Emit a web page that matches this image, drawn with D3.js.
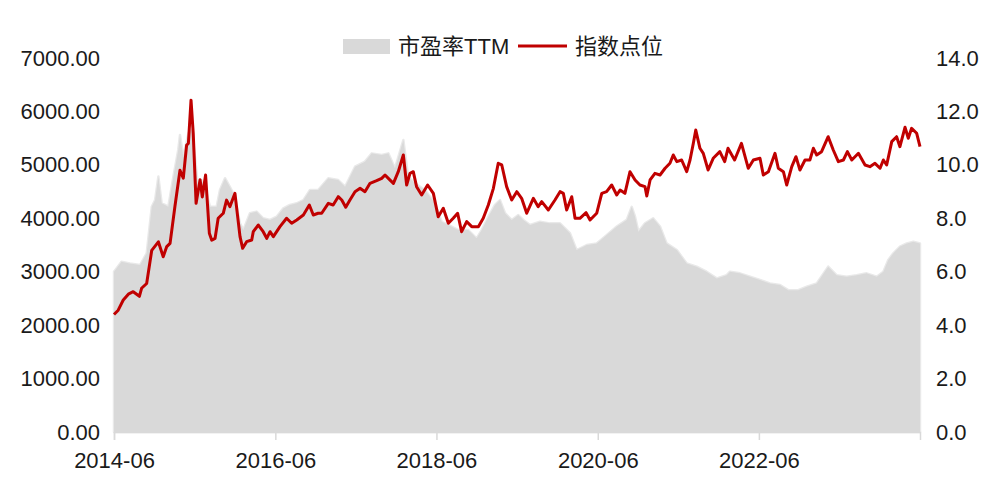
<!DOCTYPE html>
<html><head><meta charset="utf-8">
<script src="https://cdn.jsdelivr.net/npm/d3@7"></script>
<style>body{margin:0;background:#fff}</style>
</head><body><svg id="c" width="995" height="497"></svg>
<script>
// 指数点位 (left axis)
const idxDates = ["2014-06-01","2014-06-20","2014-07-13","2014-08-05","2014-08-27","2014-09-24","2014-10-04","2014-10-27","2014-11-19","2014-12-19",
"2015-01-10","2015-01-26","2015-02-10","2015-03-04","2015-03-27","2015-04-11","2015-04-26","2015-05-04","2015-05-16","2015-05-26",
"2015-06-08","2015-06-26","2015-07-06","2015-07-21","2015-08-07","2015-08-18","2015-09-02","2015-09-16","2015-10-09","2015-10-24",
"2015-11-08","2015-12-01","2015-12-24","2016-01-05","2016-01-23","2016-02-15","2016-02-22","2016-03-16","2016-04-07","2016-04-23",
"2016-05-08","2016-05-23","2016-06-22","2016-07-22","2016-08-14","2016-09-06","2016-10-06","2016-11-02","2016-11-20","2016-12-12",
"2016-12-28","2017-01-27","2017-02-18","2017-03-13","2017-03-29","2017-04-16","2017-05-05","2017-05-28","2017-06-20","2017-07-12",
"2017-08-04","2017-09-03","2017-09-26","2017-10-11","2017-10-26","2017-11-18","2017-12-10","2018-01-02","2018-01-17","2018-02-01",
"2018-02-16","2018-03-03","2018-03-26","2018-04-22","2018-05-18","2018-06-09","2018-07-02","2018-07-25","2018-08-16","2018-09-05",
"2018-09-23","2018-10-16","2018-11-08","2018-12-08","2018-12-30","2019-01-22","2019-02-14","2019-03-08","2019-03-24","2019-04-15",
"2019-05-08","2019-05-31","2019-06-22","2019-07-15","2019-08-14","2019-09-05","2019-09-21","2019-10-21","2019-11-20","2019-12-13",
"2019-12-28","2020-01-12","2020-02-04","2020-02-19","2020-03-12","2020-04-09","2020-04-27","2020-05-27","2020-06-19","2020-07-11",
"2020-08-03","2020-08-26","2020-09-10","2020-10-02","2020-10-25","2020-11-17","2020-12-09","2021-01-01","2021-01-09","2021-01-24",
"2021-02-15","2021-03-10","2021-04-02","2021-04-24","2021-05-09","2021-05-25","2021-06-16","2021-07-09","2021-07-24","2021-08-08",
"2021-08-19","2021-09-07","2021-09-22","2021-10-14","2021-11-06","2021-12-06","2021-12-28","2022-01-12","2022-02-11","2022-03-14",
"2022-04-14","2022-05-07","2022-06-06","2022-06-21","2022-07-14","2022-08-13","2022-08-28","2022-09-20","2022-10-05","2022-10-28",
"2022-11-16","2022-12-04","2022-12-27","2023-01-18","2023-02-03","2023-02-18","2023-03-12","2023-04-11","2023-05-04","2023-05-27",
"2023-06-19","2023-07-07","2023-07-27","2023-08-26","2023-09-25","2023-10-17","2023-11-09","2023-12-02","2023-12-17","2024-01-01",
"2024-01-24","2024-02-15","2024-03-01","2024-03-24","2024-04-08","2024-04-23","2024-05-16","2024-05-31"];
const idxValues = [2200,2280,2470,2580,2626,2540,2690,2780,3400,3560,
3280,3470,3530,4220,4900,4750,5370,5400,6210,5590,
4280,4720,4400,4810,3720,3590,3625,4000,4094,4340,
4217,4467,3656,3438,3562,3594,3749,3874,3749,3625,
3749,3656,3843,4000,3906,3968,4062,4249,4062,4094,
4094,4280,4249,4404,4342,4206,4342,4498,4561,4498,
4654,4704,4748,4810,4748,4654,4872,5185,4623,4842,
4872,4592,4436,4623,4467,4030,4187,3906,4000,4094,
3749,3937,3843,3843,4000,4249,4561,5029,4998,4592,
4342,4498,4374,4094,4374,4217,4311,4155,4342,4498,
4467,4155,4404,4000,4000,4105,3968,4094,4467,4498,
4623,4436,4530,4467,4872,4717,4623,4592,4417,4717,
4842,4810,4936,5029,5185,5060,5091,4872,5091,5404,
5652,5310,5216,4904,5123,5247,5060,5310,5091,5404,
4936,5091,5123,4810,4872,5216,4936,4872,4623,4966,
5153,4904,5091,5091,5310,5185,5247,5527,5278,5060,
5091,5247,5091,5216,4998,4966,5029,4936,5091,4998,
5434,5527,5340,5703,5497,5684,5591,5340];

// 市盈率TTM (right axis)
const peDates = ["2014-06-01","2014-07-05","2014-08-12","2014-09-27","2014-10-27","2014-11-19","2014-12-04","2014-12-19","2015-01-03","2015-01-18",
"2015-02-02","2015-02-25","2015-03-19","2015-03-27","2015-04-11","2015-05-04","2015-05-19","2015-06-03","2015-06-18","2015-07-03",
"2015-07-26","2015-08-10","2015-09-09","2015-09-24","2015-10-17","2015-11-08","2015-12-01","2015-12-24","2016-01-08","2016-02-07",
"2016-03-08","2016-04-07","2016-05-08","2016-06-07","2016-07-07","2016-08-06","2016-09-06","2016-10-06","2016-11-05","2016-12-12",
"2017-01-27","2017-03-13","2017-04-13","2017-05-28","2017-07-12","2017-08-12","2017-09-26","2017-10-26","2017-11-25","2018-01-02",
"2018-01-24","2018-02-24","2018-04-10","2018-05-25","2018-06-25","2018-07-25","2018-09-08","2018-10-23","2018-11-30","2018-12-23",
"2019-01-22","2019-02-21","2019-03-16","2019-04-08","2019-05-08","2019-06-07","2019-06-30","2019-07-30","2019-09-13","2019-10-28",
"2019-12-13","2020-01-27","2020-02-26","2020-04-12","2020-05-27","2020-07-11","2020-08-26","2020-10-10","2020-11-02","2020-11-17",
"2020-12-02","2021-01-01","2021-02-07","2021-03-10","2021-04-09","2021-05-25","2021-07-09","2021-08-23","2021-10-07","2021-11-22",
"2022-01-06","2022-01-21","2022-03-07","2022-04-22","2022-06-06","2022-07-21","2022-09-05","2022-10-12","2022-11-26","2023-01-04",
"2023-02-18","2023-04-11","2023-05-19","2023-07-04","2023-08-18","2023-10-02","2023-11-17","2023-12-17","2024-01-08","2024-01-31",
"2024-03-01","2024-04-01","2024-05-01","2024-05-31"];
const peValues = [6.0,6.37,6.31,6.25,6.69,8.43,8.68,9.56,8.56,8.50,
8.43,9.56,10.56,11.12,10.3,11.18,11.3,10.3,9.06,9.43,
8.93,8.43,8.43,9.06,9.5,9.18,8.81,7.81,7.56,8.19,
8.25,8.0,7.94,8.06,8.37,8.50,8.56,8.68,9.06,9.06,
9.5,9.43,9.18,9.93,10.12,10.43,10.37,10.43,9.87,10.93,
9.56,9.31,9.06,8.56,7.87,7.75,7.56,7.56,7.25,7.56,
8.06,8.50,8.68,8.19,7.94,8.12,7.94,7.75,7.87,7.81,
7.81,7.44,6.81,7.0,7.06,7.37,7.69,7.94,8.43,8.06,
7.5,7.81,8.0,7.69,7.06,6.81,6.31,6.19,6.0,5.75,
5.87,6.0,5.94,5.81,5.69,5.56,5.5,5.31,5.31,5.44,
5.56,6.19,5.87,5.81,5.87,5.94,5.81,6.0,6.44,6.69,
6.94,7.06,7.12,7.06];

const leftTicks = [0,1000,2000,3000,4000,5000,6000,7000];
const rightTicks = [0,2,4,6,8,10,12,14];
const xTickLabels = ["2014-06","2016-06","2018-06","2020-06","2022-06"];
const legendLabels = ["市盈率TTM","指数点位"];

const parse = d3.timeParse("%Y-%m-%d");
const parseM = d3.timeParse("%Y-%m");
const idx = idxDates.map((d,i)=>({date:parse(d), v:idxValues[i]}));
const pe = peDates.map((d,i)=>({date:parse(d), v:peValues[i]}));

const FONT = "'Liberation Sans', Arial, 'Noto Sans CJK SC', sans-serif";
const svg = d3.select("#c");
const L = 114, R = 920, T = 58, B = 432;
const x = d3.scaleTime().domain([parseM("2014-06"), parse("2024-05-31")]).range([L, R]);
const yL = d3.scaleLinear().domain([0, 7000]).range([B, T]);
const yR = d3.scaleLinear().domain([0, 14]).range([B, T]);

// area
const area = d3.area().x(d=>x(d.date)).y0(yR(0)).y1(d=>yR(d.v));
svg.append("path").datum(pe).attr("d", area)
  .attr("fill", "#d9d9d9").attr("stroke", "#e9e9e9").attr("stroke-width", 2.5).attr("stroke-linejoin","round");
svg.append("path").datum(pe).attr("d", area).attr("fill", "#d9d9d9");

// x axis
const xAxis = svg.append("g").attr("transform", `translate(0,${B})`)
  .call(d3.axisBottom(x).tickValues(xTickLabels.map(parseM)).tickSize(8).tickPadding(12).tickFormat(d3.timeFormat("%Y-%m")));
xAxis.select(".domain").attr("stroke", "#d9d9d9").attr("stroke-width", 1.5);
xAxis.selectAll(".tick line").attr("stroke", "#d9d9d9").attr("stroke-width", 1.5);
xAxis.selectAll("text").attr("font-family", FONT).attr("font-size", 22).attr("fill", "#1a1a1a");

// left axis
const la = svg.append("g").attr("transform", `translate(${L},0)`)
  .call(d3.axisLeft(yL).tickValues(leftTicks).tickSize(0).tickPadding(14).tickFormat(d3.format(".2f")));
la.select(".domain").remove();
la.selectAll("text").attr("font-family", FONT).attr("font-size", 22).attr("fill", "#1a1a1a");

// right axis
const ra = svg.append("g").attr("transform", `translate(${R},0)`)
  .call(d3.axisRight(yR).tickValues(rightTicks).tickSize(0).tickPadding(16).tickFormat(d3.format(".1f")));
ra.select(".domain").remove();
ra.selectAll("text").attr("font-family", FONT).attr("font-size", 22).attr("fill", "#1a1a1a");

// line
const line = d3.line().x(d=>x(d.date)).y(d=>yL(d.v)).curve(d3.curveLinear);
svg.append("path").datum(idx).attr("d", line)
  .attr("fill", "none").attr("stroke", "#c00000").attr("stroke-width", 3).attr("stroke-linejoin", "round");

// legend
const lg = svg.append("g");
lg.append("rect").attr("x", 343).attr("y", 39).attr("width", 47).attr("height", 15).attr("fill", "#d9d9d9");
lg.append("text").attr("x", 398).attr("y", 54).text(legendLabels[0])
  .attr("font-family", FONT).attr("font-size", 22).attr("fill", "#1a1a1a");
lg.append("line").attr("x1", 518).attr("x2", 567).attr("y1", 46).attr("y2", 46)
  .attr("stroke", "#c00000").attr("stroke-width", 3);
lg.append("text").attr("x", 575).attr("y", 54).text(legendLabels[1])
  .attr("font-family", FONT).attr("font-size", 22).attr("fill", "#1a1a1a");
</script>
</body></html>
